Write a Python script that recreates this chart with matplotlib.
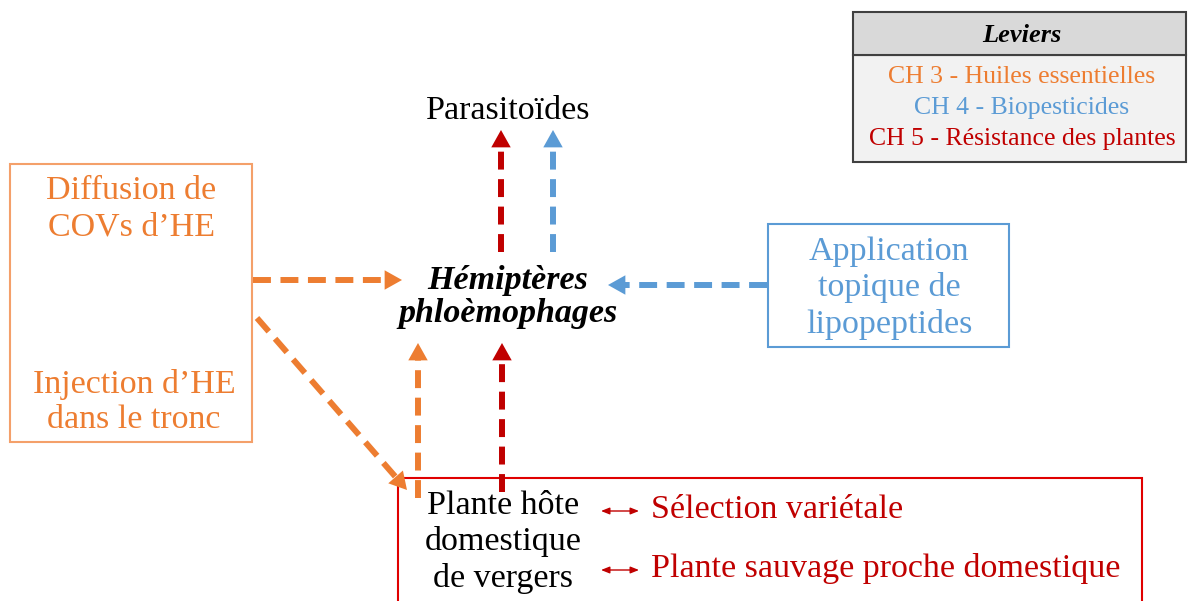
#!/usr/bin/env python3

"""Schéma des leviers contre les hémiptères phloémophages."""
from matplotlib import pyplot as plt
from matplotlib.patches import Rectangle

ORANGE = '#ED7D31'
BLUE = '#5B9BD5'
RED = '#C00000'

plt.rcParams['font.family'] = ['Liberation Serif', 'DejaVu Serif']

# textes du schéma
legend_title = 'Leviers'
legend_items = ['CH 3 - Huiles essentielles', 'CH 4 - Biopesticides',
                'CH 5 - Résistance des plantes']
legend_colors = [ORANGE, BLUE, RED]
he_lines = ['Diffusion de\nCOVs d’HE', 'Injection d’HE\ndans le tronc']
lipo_text = 'Application\ntopique de\nlipopeptides'
target_text = 'Hémiptères\nphloèmophages'
parasit_text = 'Parasitoïdes'
host_text = 'Plante hôte\ndomestique\nde vergers'
resist_items = ['Sélection variétale', 'Plante sauvage proche domestique']

# flèches: (x départ, y départ, x pointe, y pointe, couleur)
arrows = [
    (501, 252, 501, 130, RED),
    (553, 252, 553, 130, BLUE),
    (253, 280, 402, 280, ORANGE),
    (767, 285, 608, 285, BLUE),
    (257, 318, 407, 490, ORANGE),
    (418, 498, 418, 343, ORANGE),
    (502, 492, 502, 343, RED),
]

FS = 24.5
LS = 1.22


def dashed_arrow(ax, x0, y0, x1, y1, color):
    """."""
    head = 17.0
    dx, dy = x1 - x0, y1 - y0
    length = (dx**2 + dy**2) ** 0.5
    ux, uy = dx / length, dy / length
    xb, yb = x1 - ux * head, y1 - uy * head
    ax.plot([x0, xb], [y0, yb], color=color, lw=4.3,
            linestyle=(0, (3.0, 1.6)), solid_capstyle='butt',
            dash_capstyle='butt')
    ax.annotate('', xy=(x1, y1), xytext=(xb, yb),
                arrowprops=dict(arrowstyle='-|>,head_length=12.5,head_width=7',
                                mutation_scale=1, lw=0, color=color,
                                shrinkA=0, shrinkB=0))


fig = plt.figure(figsize=(11.88, 6.01), dpi=100)
ax = fig.add_axes([0, 0, 1, 1])
ax.set_xlim(0, 1188)
ax.set_ylim(601, 0)
ax.axis('off')

# légende
ax.add_patch(Rectangle((853, 55), 333, 107, facecolor='#f2f2f2',
                       edgecolor='#404040', lw=1.5))
ax.add_patch(Rectangle((853, 12), 333, 43, facecolor='#d9d9d9',
                       edgecolor='#404040', lw=1.5))
ax.text(1022, 36, legend_title, ha='center', va='center', fontsize=19,
        fontweight='bold', fontstyle='italic')
for i, (item, col) in enumerate(zip(legend_items, legend_colors)):
    ax.text(1022, 77 + 31 * i, item, ha='center', va='center', fontsize=18.5,
            color=col)

# boîte huiles essentielles
ax.add_patch(Rectangle((10, 164), 242, 278, facecolor='none',
                       edgecolor='#F4A06A', lw=1.5))
ax.text(131, 209, he_lines[0], ha='center', va='center', fontsize=FS,
        color=ORANGE, linespacing=LS)
ax.text(134, 402, he_lines[1], ha='center', va='center', fontsize=FS,
        color=ORANGE, linespacing=LS)

# boîte lipopeptides
ax.add_patch(Rectangle((768, 224), 241, 123, facecolor='none',
                       edgecolor=BLUE, lw=1.5))
ax.text(889, 288, lipo_text, ha='center', va='center', fontsize=FS,
        color=BLUE, linespacing=LS)

# centre
ax.text(508, 111, parasit_text, ha='center', va='center', fontsize=FS)
ax.text(508, 297, target_text, ha='center', va='center', fontsize=FS,
        fontweight='bold', fontstyle='italic', linespacing=1.12)

# boîte plante hôte
ax.add_patch(Rectangle((398, 478), 744, 140, facecolor='none',
                       edgecolor='#E00000', lw=1.5, clip_on=False))
ax.text(503, 542, host_text, ha='center', va='center', fontsize=FS,
        linespacing=LS)
for item, y in zip(resist_items, [510, 569]):
    ax.annotate('', xy=(639, y + 1), xytext=(601, y + 1),
                arrowprops=dict(arrowstyle='<|-|>,head_length=5,head_width=2',
                                mutation_scale=1, lw=1.0, color=RED,
                                shrinkA=0, shrinkB=0))
    ax.text(651, y, item, ha='left', va='center', fontsize=FS, color=RED)

for x0, y0, x1, y1, col in arrows:
    dashed_arrow(ax, x0, y0, x1, y1, col)

fig.savefig('out.png', dpi=100)
